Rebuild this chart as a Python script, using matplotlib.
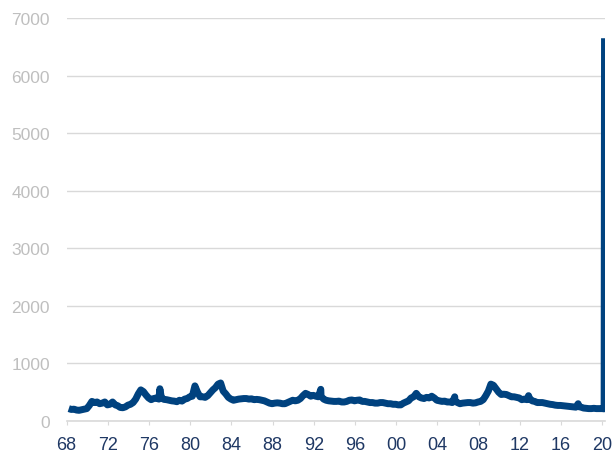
import numpy as np
import pandas as pd
import matplotlib.pyplot as plt

# weekly initial jobless claims (thousands) at quarterly steps
claims_q = [
    215, 200, 205, 190,   # 1968
    185, 195, 205, 215,   # 1969
    270, 340, 320, 330,   # 1970
    300, 310, 330, 280,   # 1971
    290, 330, 280, 265,   # 1972
    235, 230, 245, 275,   # 1973
    290, 320, 380, 470,   # 1974
    540, 510, 450, 400,   # 1975
    370, 390, 400, 380,   # 1976
    400, 375, 370, 360,   # 1977
    350, 345, 335, 360,   # 1978
    345, 380, 390, 420,   # 1979
    430, 610, 500, 420,   # 1980
    420, 410, 440, 490,   # 1981
    540, 580, 640, 660,   # 1982
    520, 470, 410, 380,   # 1983
    360, 370, 380, 385,   # 1984
    390, 390, 380, 385,   # 1985
    370, 375, 370, 360,   # 1986
    350, 330, 310, 300,   # 1987
    310, 315, 310, 300,   # 1988
    300, 320, 340, 360,   # 1989
    350, 360, 390, 440,   # 1990
    480, 460, 430, 445,   # 1991
    430, 420, 430, 380,   # 1992
    360, 350, 345, 340,   # 1993
    340, 345, 330, 330,   # 1994
    340, 360, 365, 350,   # 1995
    360, 365, 340, 340,   # 1996
    330, 320, 320, 310,   # 1997
    310, 320, 320, 310,   # 1998
    300, 300, 290, 290,   # 1999
    280, 280, 310, 330,   # 2000
    350, 400, 420, 480,   # 2001
    420, 400, 390, 410,   # 2002
    400, 430, 400, 360,   # 2003
    350, 340, 345, 330,   # 2004
    330, 320, 350, 320,   # 2005
    300, 310, 315, 320,   # 2006
    320, 310, 315, 330,   # 2007
    340, 370, 440, 520,   # 2008
    640, 620, 560, 500,   # 2009
    460, 465, 460, 440,   # 2010
    420, 420, 410, 400,   # 2011
    370, 380, 370, 390,   # 2012
    350, 340, 320, 320,   # 2013
    320, 310, 300, 290,   # 2014
    285, 275, 270, 270,   # 2015
    265, 260, 255, 250,   # 2016
    245, 240, 250, 240,   # 2017
    225, 220, 215, 215,   # 2018
    220, 215, 215, 215,   # 2019
]

# one-off spikes (blizzard, hurricanes...)
spike_dates = ["1977-01-20", "1992-09-05", "2005-09-10", "2012-11-10", "2017-09-05"]
spike_vals = [560, 550, 420, 440, 300]

# 2020 weeks
last_dates = ["2020-01-11", "2020-02-15", "2020-03-07", "2020-03-14", "2020-03-21", "2020-03-28"]
last_vals = [215, 212, 211, 282, 3307, 6648]

xticks = list(range(1968, 2021, 4))
xticklabels = ["%02d" % (y % 100) for y in xticks]


def to_year(d):
    d = pd.DatetimeIndex(d)
    return d.year + (d.dayofyear - 1) / 365.25


q_dates = pd.date_range("1968-02-15", periods=len(claims_q), freq="3MS") + pd.Timedelta(days=14)
s = pd.Series(claims_q, index=to_year(q_dates))
s = pd.concat([s, pd.Series(spike_vals, index=to_year(spike_dates)),
               pd.Series(last_vals, index=to_year(last_dates))]).sort_index()

fig = plt.figure(figsize=(6.14, 4.56), dpi=100)
ax = fig.add_axes([0.1086, 0.0746, 0.877, 0.8838])
plt.rcParams['font.family'] = ['Liberation Sans', 'DejaVu Sans']

ax.plot(s.index, s.values, color='#00427F', lw=5, solid_joinstyle='round', solid_capstyle='butt')

ax.set_xlim(1968, 2020.3)
ax.set_ylim(0, 7000)
ax.set_yticks(range(0, 7001, 1000))
ax.set_xticks(xticks)
ax.set_xticklabels(xticklabels)
ax.grid(axis='y', color='#D9D9D9', lw=1)
ax.set_axisbelow(True)
for sp in ['top', 'right', 'left']:
    ax.spines[sp].set_visible(False)
ax.spines['bottom'].set_color('#D9D9D9')
ax.spines['bottom'].set_linewidth(1.2)
ax.tick_params(axis='y', length=0, pad=12, labelsize=12.5, labelcolor='#BFBFBF')
ax.tick_params(axis='x', length=3, color='#D9D9D9', pad=8, labelsize=13, labelcolor='#1F3864')
for lab in ax.get_xticklabels() + ax.get_yticklabels():
    lab.set_family(['Liberation Sans', 'DejaVu Sans'])

fig.savefig('out.png', dpi=100)
